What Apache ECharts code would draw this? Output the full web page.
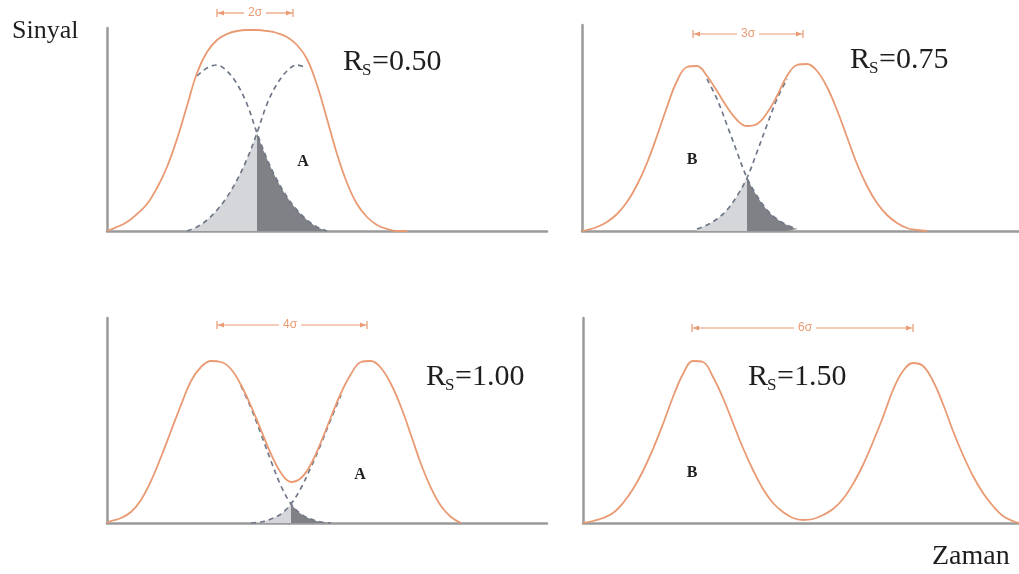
<!DOCTYPE html>
<html>
<head>
<meta charset="utf-8">
<script src="https://cdn.jsdelivr.net/npm/echarts@6/dist/echarts.min.js"></script>
<style>
html,body{margin:0;padding:0;background:#fff;}
#chart{width:1019px;height:574px;}
</style>
</head>
<body>
<div id="chart"></div>
<script>
// ---------- data (signal vs. time) ----------
// Panel 1: Rs = 0.50
const p1_x = [0,1,2,3,4,5,6,7,8,9,10,11,12,13,14,15,16,17,18,19,20,21,22,23,24,25,26,27,28,29,30];
const p1_sum = [0,4,9,17,27,43,64,92,125,158,179,191,197,200,201,201,200,198,194,186,172,146,112,77,48,27,14,6,2,0,0];
const p1_peakL = [null,null,null,null,null,null,null,null,null,155,163,166,160,147,127,98,72,51,34,21,11,4,0,null,null,null,null,null,null,null,null];
const p1_peakR = [null,null,null,null,null,null,null,null,0,4,11,21,34,51,72,98,127,147,160,166,163,null,null,null,null,null,null,null,null,null,null];
const p1_cross = 15;

// Panel 2: Rs = 0.75
const p2_x = [-0.5,0,1,2,3,4,5,6,7,8,9,10,11,12,13,14,15,16,17,18,19,20,21,22,23,24,25,26,27,28,29,30,31,32,33,34];
const p2_sum = [0,1,4,9,17,29,46,68,95,124,150,164,165,155,140,124,111,105,107,118,135,155,166,167,160,144,121,94,67,45,28,16,8,3,1,0];
const p2_peakL = [null,null,null,null,null,null,null,null,null,null,null,null,null,152,132,106,79,53,35,21,12,6,2,null,null,null,null,null,null,null,null,null,null,null,null,null];
const p2_peakR = [null,null,null,null,null,null,null,null,null,null,null,null,2,6,12,21,35,53,79,106,132,152,null,null,null,null,null,null,null,null,null,null,null,null,null,null];
const p2_cross = 16;

// Panel 3: Rs = 1.00
const p3_x = [-0.4,0,1,2,3,4,5,6,7,8,9,10,11,12,13,14,15,16,17,18,19,20,21,22,23,24,25,26,27,28,29,30,31,32,33,34,35];
const p3_sum = [0,2,5,11,23,42,66,92,118,142,156,162,161,154,138,117,93,69,50,41,45,59,81,106,130,149,161,162,155,139,116,88,59,35,17,6,0];
const p3_peakL = [null,null,null,null,null,null,null,null,null,null,null,null,null,null,137,115,89,62,37,19,9,4,1,0,null,null,null,null,null,null,null,null,null,null,null,null,null];
const p3_peakR = [null,null,null,null,null,null,null,null,null,null,null,null,null,null,null,0,1,4,9,19,35,56,79,104,128,null,null,null,null,null,null,null,null,null,null,null,null];
const p3_cross = 18;

// Panel 4: Rs = 1.50
const p4_x = [0,1,2,3,4,5,6,7,8,9,10,11,12,13,14,15,16,17,18,19,20,21,22,23,24,25,26,27,28,29,30,31,32,33,34,35,36,37,38,39,40,41,42,43,43.6];
const p4_sum = [0,2,5,10,20,34,52,74,99,126,149,162,161,146,125,100,75,53,34,20,11,5,3,4,8,14,24,39,58,81,106,133,152,160,157,142,119,92,68,47,30,17,7,2,0];

const rsLabels = ['0.50','0.75','1.00','1.50'];
const peakLabels = ['A','B','A','B'];
const widthLabels = ['2σ','3σ','4σ','6σ'];

// ---------- styling / layout ----------
const ORANGE = '#e99a72';
const DASH = '#6f7888';
const LIGHT = '#d5d6d9';
const DARK = '#808187';
const AXIS = '#9a9a9a';
const SERIF = '"Liberation Serif","DejaVu Serif",serif';

const grids = [
  {left:107, top:28, width:440, height:203},
  {left:582, top:25, width:437, height:206},
  {left:107, top:318, width:440, height:205},
  {left:583, top:318, width:436, height:205}
];
const xRanges = [[0,44],[-0.5,43.2],[-0.4,43.6],[0,43.6]];
const yMax = [203,206,205,205];

function pairs(xs, ys){ return xs.map((x,i)=>[x, ys[i]]).filter(p=>p[1]!==null && p[1]!==undefined); }

const panels = [
  {x:p1_x, sum:p1_sum, L:p1_peakL, R:p1_peakR, cross:p1_cross},
  {x:p2_x, sum:p2_sum, L:p2_peakL, R:p2_peakR, cross:p2_cross},
  {x:p3_x, sum:p3_sum, L:p3_peakL, R:p3_peakR, cross:p3_cross},
  {x:p4_x, sum:p4_sum}
];

const xAxes = [], yAxes = [], series = [];
panels.forEach((p, i) => {
  xAxes.push({type:'value', gridIndex:i, min:xRanges[i][0], max:xRanges[i][1],
    axisLine:{show:true, onZero:false, lineStyle:{color:AXIS, width:2.5}},
    axisTick:{show:false}, axisLabel:{show:false}, splitLine:{show:false}});
  yAxes.push({type:'value', gridIndex:i, min:0, max:yMax[i],
    axisLine:{show:true, onZero:false, lineStyle:{color:AXIS, width:2.5}},
    axisTick:{show:false}, axisLabel:{show:false}, splitLine:{show:false}});
  if (p.L) {
    const lightPts = pairs(p.x, p.R).filter(d => d[0] <= p.cross);
    const darkPts = pairs(p.x, p.L).filter(d => d[0] >= p.cross);
    series.push({type:'line', xAxisIndex:i, yAxisIndex:i, data:lightPts, smooth:0.35, symbol:'none',
      lineStyle:{width:0, opacity:0}, areaStyle:{color:LIGHT, opacity:1}, z:2, silent:true});
    series.push({type:'line', xAxisIndex:i, yAxisIndex:i, data:darkPts, smooth:0.35, symbol:'none',
      lineStyle:{width:0, opacity:0}, areaStyle:{color:DARK, opacity:1}, z:2, silent:true});
    series.push({type:'line', xAxisIndex:i, yAxisIndex:i, data:pairs(p.x, p.L), smooth:0.35, symbol:'none',
      lineStyle:{color:DASH, width:1.7, type:[5,4]}, z:3, silent:true});
    series.push({type:'line', xAxisIndex:i, yAxisIndex:i, data:pairs(p.x, p.R), smooth:0.35, symbol:'none',
      lineStyle:{color:DASH, width:1.7, type:[5,4]}, z:3, silent:true});
  }
  series.push({type:'line', xAxisIndex:i, yAxisIndex:i, data:pairs(p.x, p.sum), smooth:0.4, symbol:'none',
    lineStyle:{color:ORANGE, width:1.8}, z:4, silent:true});
});

// ---------- annotations ----------
function txt(x, y, text, size, opts){
  opts = opts || {};
  return {type:'text', x:x, y:y, z:10, silent:true, style:{
    text:text, fill:opts.fill || '#1e1e1e',
    font:(opts.weight || 'normal') + ' ' + size + 'px ' + (opts.family || SERIF),
    align:opts.align || 'left', verticalAlign:'middle',
    textAlign:opts.align || 'left', textVerticalAlign:'middle'}};
}
function rs(x, cy, num){
  return [
    txt(x, cy, 'R', 30),
    txt(x + 19, cy + 9, 'S', 17),
    txt(x + 29, cy, '=' + num, 30)
  ];
}
function bracket(x1, x2, y, label, cx){
  const ls = {stroke:ORANGE, lineWidth:1.2};
  return [
    {type:'line', shape:{x1:x1, y1:y, x2:cx - 11, y2:y}, style:ls, z:10, silent:true},
    {type:'line', shape:{x1:cx + 11, y1:y, x2:x2, y2:y}, style:ls, z:10, silent:true},
    {type:'line', shape:{x1:x1, y1:y - 4, x2:x1, y2:y + 4}, style:ls, z:10, silent:true},
    {type:'line', shape:{x1:x2, y1:y - 4, x2:x2, y2:y + 4}, style:ls, z:10, silent:true},
    {type:'polygon', shape:{points:[[x1 + 1, y], [x1 + 7, y - 2.5], [x1 + 7, y + 2.5]]}, style:{fill:ORANGE}, z:10, silent:true},
    {type:'polygon', shape:{points:[[x2 - 1, y], [x2 - 7, y - 2.5], [x2 - 7, y + 2.5]]}, style:{fill:ORANGE}, z:10, silent:true},
    txt(cx, y, label, 12, {fill:ORANGE, align:'center', family:'"Liberation Sans","DejaVu Sans",sans-serif'})
  ];
}

const graphics = [].concat(
  [txt(12, 31, 'Sinyal', 26), txt(932, 557, 'Zaman', 28)],
  rs(343, 62, rsLabels[0]),
  rs(850, 60, rsLabels[1]),
  rs(426, 377, rsLabels[2]),
  rs(748, 377, rsLabels[3]),
  [txt(303, 162, peakLabels[0], 16, {weight:'bold', align:'center'}),
   txt(692, 160, peakLabels[1], 16, {weight:'bold', align:'center'}),
   txt(360, 475, peakLabels[2], 16, {weight:'bold', align:'center'}),
   txt(692, 473, peakLabels[3], 16, {weight:'bold', align:'center'})],
  bracket(217, 293, 13, widthLabels[0], 255),
  bracket(693, 803, 34, widthLabels[1], 748),
  bracket(217, 367, 325, widthLabels[2], 290),
  bracket(692, 913, 328, widthLabels[3], 805)
);

const chart = echarts.init(document.getElementById('chart'), null, {renderer:'canvas'});
chart.setOption({
  animation:false,
  backgroundColor:'#ffffff',
  grid:grids,
  xAxis:xAxes,
  yAxis:yAxes,
  series:series,
  graphic:{elements:graphics}
});
</script>
</body>
</html>
